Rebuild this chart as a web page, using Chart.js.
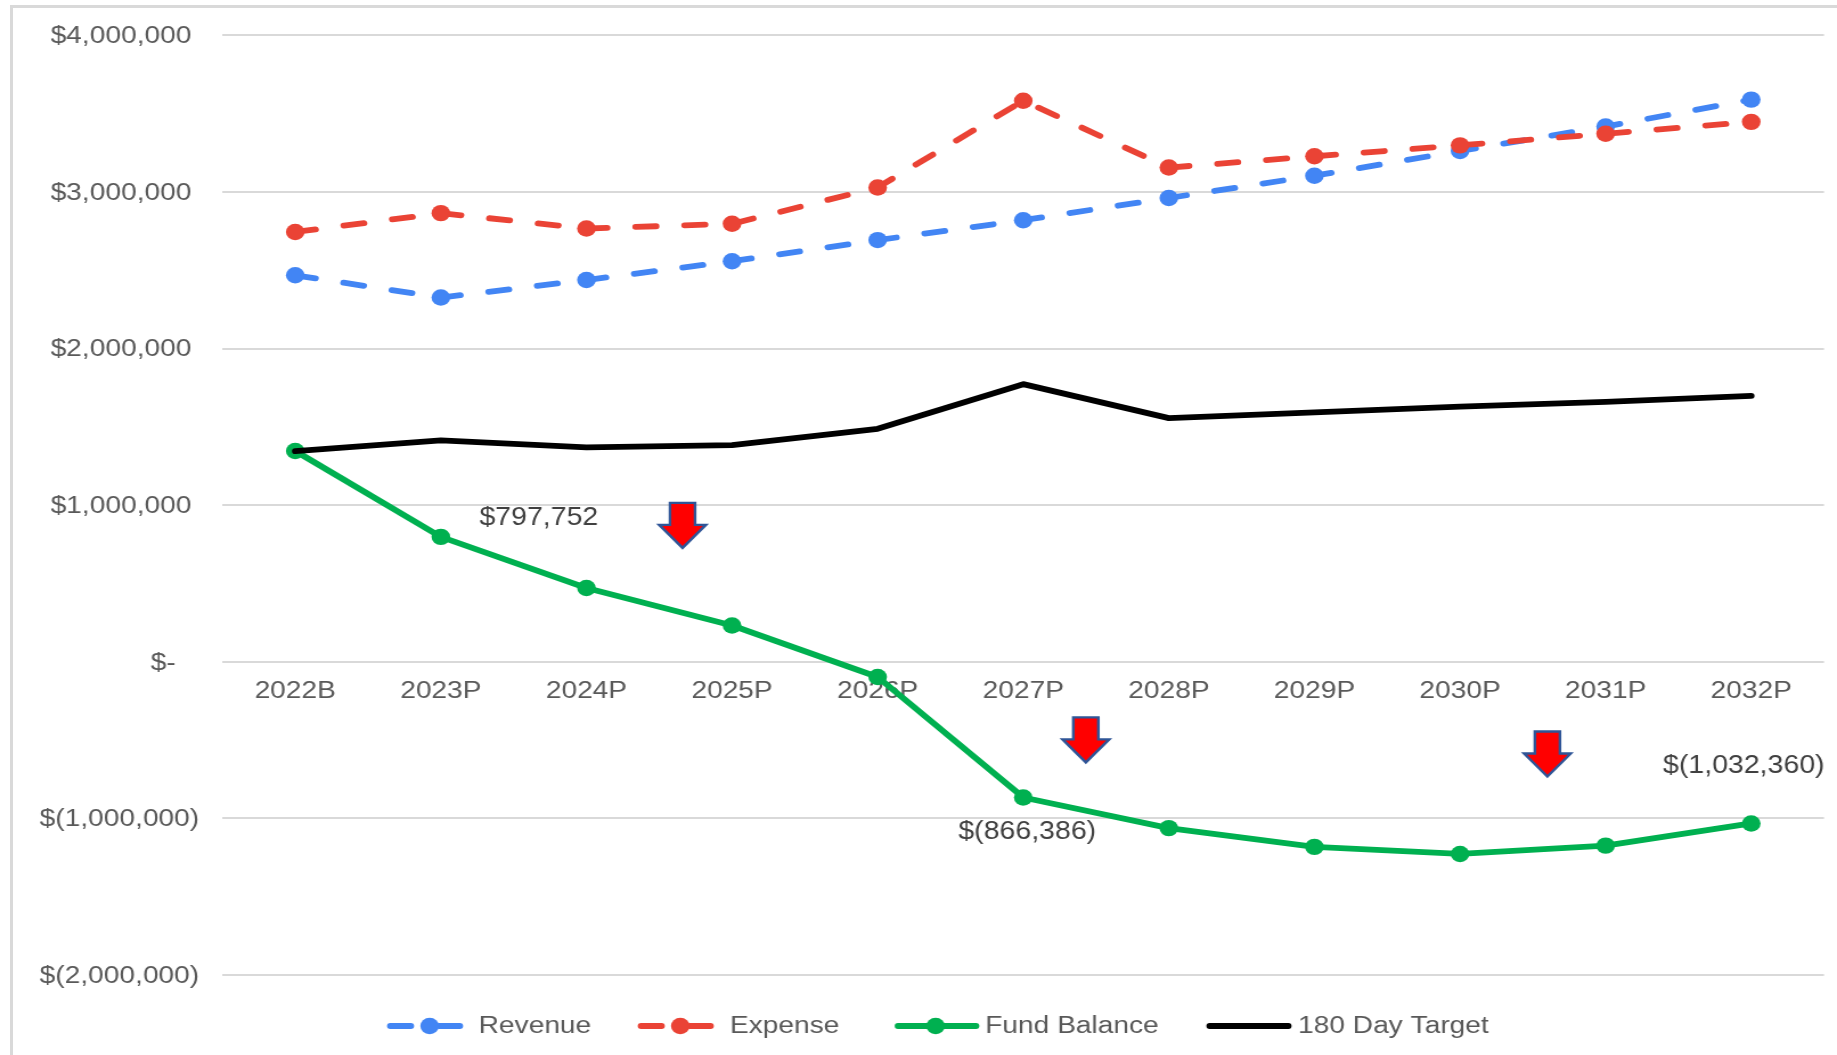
<!DOCTYPE html>
<html>
<head>
<meta charset="utf-8">
<title>Fund balance projection</title>
<script src="https://cdn.jsdelivr.net/npm/chart.js@4"></script>
<style>
  html, body { margin: 0; padding: 0; background: #fff; overflow: hidden; }
  #stage { position: relative; width: 1837px; height: 1055px; overflow: hidden; }
  #frame { position: absolute; left: 10px; top: 5px; width: 1900px; height: 1100px;
           border-left: 3px solid #d9d9d9; border-top: 3px solid #d9d9d9; }
  /* The drawing surface is narrower than its box, which widens all glyphs and dots. */
  #chart { position: absolute; left: 0; top: 0; width: 1837px; height: 1055px; }
</style>
</head>
<body>
<div id="stage">
  <div id="frame"></div>
  <canvas id="chart" width="1612" height="1055" style="width:1837px;height:1055px"></canvas>
</div>
<script>
const categories = ['2022B','2023P','2024P','2025P','2026P','2027P','2028P','2029P','2030P','2031P','2032P'];
const revenue = [2468000,2326000,2438000,2558000,2693000,2820000,2962000,3104000,3262000,3418000,3590000];
const expense = [2745000,2865000,2767000,2797000,3029000,3583000,3156000,3228000,3298000,3372000,3448000];
const fundBalance = [1346000,797752,471000,232000,-97000,-866386,-1062000,-1182000,-1227000,-1174000,-1032360];
const dayTarget = [1345000,1414000,1369000,1384000,1488000,1773000,1556000,1593000,1630000,1660000,1698000];

// Callouts on the fund balance line: point index and text offset in canvas pixels.
const calloutIndex = [1, 5, 10];
const calloutDx = [86, 3.5, -6.5];
const calloutDy = [-19, 35, -57];

// Downward arrows: fractional category position and the value at the arrow's top edge.
const arrowSlots = [2.66, 5.43, 8.6];
const arrowTops = [1015000, -355000, -445000];

// Legend layout along the bottom, in canvas pixels.
const legendStart = [340, 560, 785.5, 1059];
const legendEnd = [408, 627.5, 859, 1133];
const legendDot = [377, 597, 821, null];
const legendText = [420, 640.5, 864.5, 1139];
const legendY = 1026;

const FONT = '"Liberation Sans", Arial, sans-serif';
const TICK_SIZE = 24.7;
const LABEL_SIZE = 25;

function money(v) {
  const abs = Math.abs(v).toLocaleString('en-US');
  return v < 0 ? '$(' + abs + ')' : '$' + abs;
}

// Accounting-style alignment: positives leave room for a closing paren, zero sits further in.
function axisMoney(v) {
  if (v === 0) return '$-\u00a0\u00a0\u00a0';
  return v > 0 ? money(v) + '\u00a0' : money(v);
}

const calloutPlugin = {
  id: 'callouts',
  afterDatasetsDraw(chart) {
    const { ctx } = chart;
    const fund = chart.getDatasetMeta(2).data;
    ctx.save();
    ctx.font = LABEL_SIZE + 'px ' + FONT;
    ctx.fillStyle = '#404040';
    ctx.textAlign = 'center';
    ctx.textBaseline = 'middle';
    calloutIndex.forEach((idx, i) => {
      const pt = fund[idx];
      ctx.fillText(money(fundBalance[idx]), pt.x + calloutDx[i], pt.y + calloutDy[i]);
    });
    ctx.restore();
  }
};

const arrowPlugin = {
  id: 'arrows',
  afterDatasetsDraw(chart) {
    const { ctx, scales } = chart;
    ctx.save();
    ctx.fillStyle = '#ff0000';
    ctx.strokeStyle = '#2f5597';
    ctx.lineWidth = 2.4;
    ctx.lineJoin = 'miter';
    arrowSlots.forEach((slot, i) => {
      const x = scales.x.getPixelForValue(slot);
      const y = scales.y.getPixelForValue(arrowTops[i]);
      ctx.beginPath();
      ctx.moveTo(x - 11, y);
      ctx.lineTo(x + 11, y);
      ctx.lineTo(x + 11, y + 22);
      ctx.lineTo(x + 20.5, y + 22);
      ctx.lineTo(x, y + 45);
      ctx.lineTo(x - 20.5, y + 22);
      ctx.lineTo(x - 11, y + 22);
      ctx.closePath();
      ctx.fill();
      ctx.stroke();
    });
    ctx.restore();
  }
};

const legendPlugin = {
  id: 'bottomLegend',
  afterDraw(chart) {
    const { ctx } = chart;
    ctx.save();
    chart.data.datasets.forEach((ds, i) => {
      ctx.strokeStyle = ds.borderColor;
      ctx.fillStyle = ds.borderColor;
      ctx.lineWidth = ds.borderWidth;
      ctx.lineCap = 'round';
      ctx.setLineDash(ds.borderDash || []);
      ctx.beginPath();
      ctx.moveTo(legendStart[i] + 2.5, legendY);
      ctx.lineTo(legendEnd[i] - 2.5, legendY);
      ctx.stroke();
      ctx.setLineDash([]);
      if (legendDot[i] !== null) {
        ctx.beginPath();
        ctx.arc(legendDot[i], legendY, ds.pointRadius, 0, Math.PI * 2);
        ctx.fill();
      }
      ctx.font = TICK_SIZE + 'px ' + FONT;
      ctx.fillStyle = '#595959';
      ctx.textAlign = 'left';
      ctx.textBaseline = 'middle';
      ctx.fillText(ds.label, legendText[i], legendY);
    });
    ctx.restore();
  }
};

function lineSeries(label, data, color, order, extra) {
  return Object.assign({
    label, data, order,
    borderColor: color,
    backgroundColor: color,
    pointBackgroundColor: color,
    pointBorderWidth: 0,
    pointRadius: 8.2,
    borderWidth: 5.8,
    borderCapStyle: 'round',
    borderJoinStyle: 'round',
    tension: 0,
    fill: false
  }, extra || {});
}

new Chart(document.getElementById('chart'), {
  type: 'line',
  data: {
    labels: categories,
    datasets: [
      lineSeries('Revenue', revenue, '#4285f4', 4, { borderDash: [18, 25] }),
      lineSeries('Expense', expense, '#ea4335', 3, { borderDash: [18, 25] }),
      lineSeries('Fund Balance', fundBalance, '#00b050', 2),
      lineSeries('180 Day Target', dayTarget, '#000000', 1, { pointRadius: 0 })
    ]
  },
  options: {
    responsive: false,
    animation: false,
    devicePixelRatio: 1,
    layout: { padding: { top: 35.4, bottom: 80, left: 0, right: 11.4 } },
    plugins: { legend: { display: false }, tooltip: { enabled: false } },
    scales: {
      x: {
        type: 'category',
        position: { y: 0 },
        offset: true,
        grid: { display: false, drawTicks: false },
        border: { display: false },
        ticks: {
          maxRotation: 0,
          autoSkip: false,
          padding: 15,
          color: '#595959',
          font: { family: FONT, size: TICK_SIZE }
        }
      },
      y: {
        min: -2000000,
        max: 4000000,
        grid: { color: '#d9d9d9', lineWidth: 2, drawTicks: false },
        border: { display: false },
        afterFit(scale) { scale.width = 195.2; },
        ticks: {
          stepSize: 1000000,
          padding: 20.4,
          labelOffset: 1,
          color: '#595959',
          font: { family: FONT, size: TICK_SIZE },
          callback: axisMoney
        }
      }
    }
  },
  plugins: [arrowPlugin, calloutPlugin, legendPlugin]
});
</script>
</body>
</html>
